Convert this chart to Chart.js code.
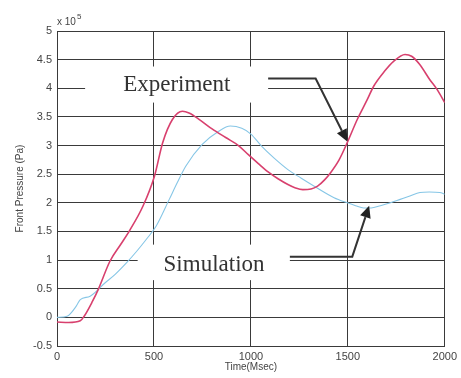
<!DOCTYPE html>
<html>
<head>
<meta charset="utf-8">
<script src="https://cdn.jsdelivr.net/npm/chart.js@4"></script>
<style>
html,body{margin:0;padding:0;background:#fff;}
canvas{display:block;}
</style>
</head>
<body>
<canvas id="c" width="461" height="378"></canvas>
<script>
// ---- data ----
const expTime = [0, 60, 120, 140, 180, 213, 273, 330, 375, 443, 503, 545, 596, 647, 681, 740, 800, 870, 936, 987, 1040, 1089, 1140, 1191, 1230, 1268, 1310, 1344, 1380, 1412, 1455, 1497, 1548, 1600, 1634, 1690, 1736, 1795, 1829, 1870, 1923, 1960, 2000];
const expPressure = [-0.08, -0.09, -0.06, 0.02, 0.26, 0.49, 0.98, 1.28, 1.52, 1.94, 2.47, 3.05, 3.46, 3.6, 3.57, 3.44, 3.29, 3.14, 3.0, 2.84, 2.68, 2.54, 2.42, 2.32, 2.26, 2.23, 2.24, 2.29, 2.4, 2.53, 2.75, 3.05, 3.45, 3.8, 4.04, 4.3, 4.47, 4.59, 4.56, 4.42, 4.15, 3.98, 3.75];
const simTime = [0, 52, 100, 120, 171, 247, 300, 358, 410, 460, 511, 579, 620, 664, 749, 834, 894, 953, 1000, 1055, 1120, 1191, 1260, 1327, 1429, 1497, 1540, 1582, 1620, 1668, 1720, 1770, 1820, 1872, 1920, 1974, 2000];
const simPressure = [0, 0.02, 0.2, 0.31, 0.37, 0.6, 0.75, 0.95, 1.15, 1.36, 1.59, 2.06, 2.35, 2.64, 3.02, 3.25, 3.34, 3.3, 3.2, 2.99, 2.78, 2.58, 2.43, 2.29, 2.09, 2.0, 1.95, 1.91, 1.91, 1.95, 2.0, 2.06, 2.12, 2.18, 2.19, 2.18, 2.15];
const seriesNames = ["Experiment", "Simulation"];
const xTicks = [0, 500, 1000, 1500, 2000];
const yTicks = [-0.5, 0, 0.5, 1, 1.5, 2, 2.5, 3, 3.5, 4, 4.5, 5];
const xTitle = "Time(Msec)";
const yTitle = "Front Pressure (Pa)";
const yExponent = "5";
// annotation labels (data units): label centre, white box extent, arrow path
const labelCentre = [[618, 4.05], [810, 0.91]];
const labelBox = [[145, 1089, 4.38, 3.75], [416, 1201, 1.27, 0.65]];
const arrowPath = [
  [[1089, 4.17], [1334, 4.17], [1497, 3.07]],
  [[1201, 1.06], [1523, 1.06], [1610, 1.95]]
];

const toXY = (t, v) => t.map((x, i) => ({x: x, y: v[i]}));

const annot = {
  id: 'annot',
  beforeDatasetsDraw(chart) {
    const {ctx, scales: {x, y}} = chart;
    ctx.save();
    ctx.fillStyle = '#fff';
    labelBox.forEach(b => {
      const x0 = x.getPixelForValue(b[0]), x1 = x.getPixelForValue(b[1]);
      const y0 = y.getPixelForValue(b[2]), y1 = y.getPixelForValue(b[3]);
      ctx.fillRect(x0, y0, x1 - x0, y1 - y0);
    });
    ctx.restore();
  },
  afterDatasetsDraw(chart) {
    const {ctx, scales: {x, y}} = chart;
    ctx.save();
    ctx.fillStyle = '#333';
    ctx.font = '23px "Liberation Serif", "Times New Roman", serif';
    ctx.textAlign = 'center';
    ctx.textBaseline = 'middle';
    seriesNames.forEach((n, i) => {
      ctx.fillText(n, x.getPixelForValue(labelCentre[i][0]), y.getPixelForValue(labelCentre[i][1]));
    });
    ctx.strokeStyle = '#333';
    ctx.lineWidth = 2;
    arrowPath.forEach(p => {
      const pts = p.map(q => [x.getPixelForValue(q[0]), y.getPixelForValue(q[1])]);
      ctx.beginPath();
      ctx.moveTo(pts[0][0], pts[0][1]);
      for (let i = 1; i < pts.length - 1; i++) ctx.lineTo(pts[i][0], pts[i][1]);
      const a = pts[pts.length - 2], b = pts[pts.length - 1];
      const ang = Math.atan2(b[1] - a[1], b[0] - a[0]);
      const hl = 12, hw = 5.5;
      const bx = b[0] - hl * Math.cos(ang), by = b[1] - hl * Math.sin(ang);
      ctx.lineTo(bx, by);
      ctx.stroke();
      ctx.beginPath();
      ctx.moveTo(b[0], b[1]);
      ctx.lineTo(bx + hw * Math.sin(ang), by - hw * Math.cos(ang));
      ctx.lineTo(bx - hw * Math.sin(ang), by + hw * Math.cos(ang));
      ctx.closePath();
      ctx.fillStyle = '#222';
      ctx.fill();
    });
    // exponent label
    const left = chart.chartArea.left, top = chart.chartArea.top;
    ctx.fillStyle = '#444';
    ctx.textAlign = 'left';
    ctx.textBaseline = 'alphabetic';
    ctx.font = '10px "Liberation Sans", Arial, sans-serif';
    ctx.fillText('x 10', left, top - 6);
    const w = ctx.measureText('x 10').width;
    ctx.font = '8px "Liberation Sans", Arial, sans-serif';
    ctx.fillText(yExponent, left + w + 1, top - 12);
    ctx.restore();
  }
};

const fmt = v => String(v);

new Chart(document.getElementById('c'), {
  type: 'line',
  data: {
    datasets: [
      {label: seriesNames[0], data: toXY(expTime, expPressure), borderColor: '#d8406e', borderWidth: 1.6, pointRadius: 0, cubicInterpolationMode: 'monotone', fill: false},
      {label: seriesNames[1], data: toXY(simTime, simPressure), borderColor: '#86c6e6', borderWidth: 1.1, pointRadius: 0, cubicInterpolationMode: 'monotone', fill: false}
    ]
  },
  options: {
    responsive: false,
    animation: false,
    devicePixelRatio: 1,
    layout: {padding: {top: 31, right: 13, left: 0, bottom: 0}},
    plugins: {legend: {display: false}, tooltip: {enabled: false}},
    scales: {
      x: {
        type: 'linear', min: 0, max: 2000,
        afterBuildTicks: s => { s.ticks = xTicks.map(v => ({value: v})); },
        afterFit: s => { s.height = 32; },
        grid: {color: '#3a3a3a', lineWidth: 1, drawTicks: false},
        border: {color: '#3a3a3a', width: 1},
        ticks: {padding: 4, color: '#444', callback: fmt, font: {family: '"Liberation Sans", Arial, sans-serif', size: 11}, maxRotation: 0},
        title: {display: true, text: xTitle, color: '#444', font: {family: '"Liberation Sans", Arial, sans-serif', size: 10}, padding: {top: 0, bottom: 5}}
      },
      y: {
        type: 'linear', min: -0.5, max: 5,
        afterBuildTicks: s => { s.ticks = yTicks.map(v => ({value: v})); },
        afterFit: s => { s.width = 57; },
        grid: {color: '#3a3a3a', lineWidth: 1, drawTicks: false},
        border: {color: '#3a3a3a', width: 1},
        ticks: {padding: 5, color: '#444', callback: fmt, font: {family: '"Liberation Sans", Arial, sans-serif', size: 11}},
        title: {display: true, text: yTitle, color: '#444', font: {family: '"Liberation Sans", Arial, sans-serif', size: 10}, padding: {top: 14, bottom: 0}}
      }
    }
  },
  plugins: [annot]
});
</script>
</body>
</html>
